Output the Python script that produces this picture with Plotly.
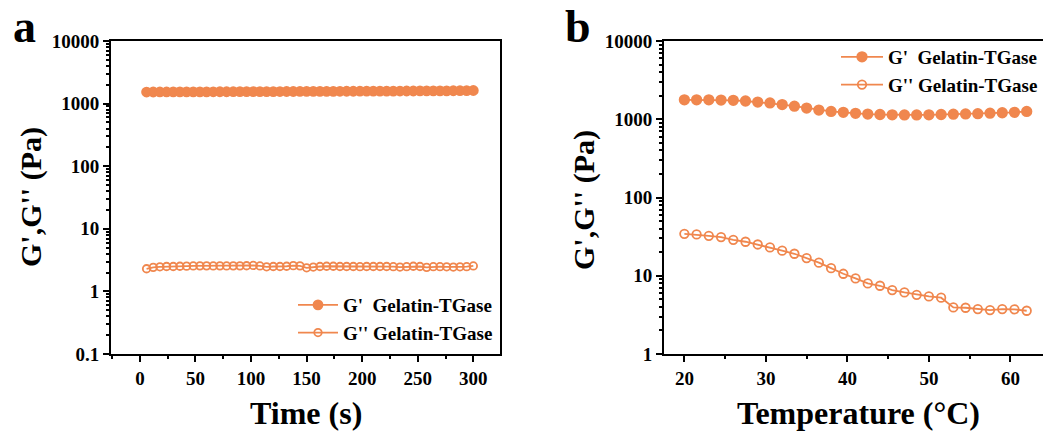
import plotly.graph_objects as go

# ---------------- data ----------------
time_s = [6, 12, 18, 24, 30, 36, 42, 48, 54, 60, 66, 72, 78, 84, 90, 96, 102, 108, 114, 120,
          126, 132, 138, 144, 150, 156, 162, 168, 174, 180, 186, 192, 198, 204, 210, 216, 222,
          228, 234, 240, 246, 252, 258, 264, 270, 276, 282, 288, 294, 300]
g1_time = [1530, 1532, 1534, 1535, 1536, 1538, 1539, 1540, 1542, 1543, 1544, 1546, 1547,
           1548, 1550, 1551, 1553, 1554, 1556, 1557, 1559, 1560, 1562, 1563, 1565, 1566,
           1568, 1569, 1571, 1572, 1574, 1576, 1577, 1579, 1580, 1582, 1584, 1586, 1587,
           1589, 1591, 1593, 1595, 1597, 1599, 1601, 1603, 1606, 1610, 1620]
g2_time = [2.30, 2.42, 2.47, 2.50, 2.50, 2.52, 2.53, 2.55, 2.56, 2.56, 2.55, 2.56, 2.55,
           2.56, 2.56, 2.57, 2.60, 2.55, 2.47, 2.50, 2.50, 2.52, 2.58, 2.56, 2.38, 2.45,
           2.50, 2.52, 2.52, 2.50, 2.50, 2.50, 2.48, 2.50, 2.50, 2.50, 2.50, 2.48, 2.45,
           2.48, 2.52, 2.50, 2.42, 2.48, 2.48, 2.47, 2.45, 2.47, 2.48, 2.55]

temp_c = [20, 21.5, 23, 24.5, 26, 27.5, 29, 30.5, 32, 33.5, 35, 36.5, 38, 39.5, 41, 42.5,
          44, 45.5, 47, 48.5, 50, 51.5, 53, 54.5, 56, 57.5, 59, 60.5, 62]
g1_temp = [1770, 1770, 1770, 1760, 1745, 1710, 1660, 1615, 1540, 1470, 1390, 1310, 1260,
           1225, 1190, 1165, 1150, 1140, 1135, 1135, 1140, 1150, 1160, 1170, 1180, 1195,
           1210, 1225, 1260]
g2_temp = [34.3, 33.7, 32.4, 31.2, 28.8, 27.2, 25.1, 23.0, 20.9, 19.1, 16.8, 14.7, 12.5,
           10.6, 9.25, 7.98, 7.45, 6.56, 6.12, 5.71, 5.45, 5.24, 3.94, 3.90, 3.75, 3.64,
           3.75, 3.72, 3.57]

series_names = ["G'  Gelatin-TGase", "G'' Gelatin-TGase"]
a_yticks = [0.1, 1, 10, 100, 1000, 10000]
a_yticktext = ["0.1", "1", "10", "100", "1000", "10000"]
b_yticks = [1, 10, 100, 1000, 10000]
b_yticktext = ["1", "10", "100", "1000", "10000"]
a_xticks = [0, 50, 100, 150, 200, 250, 300]
b_xticks = [20, 30, 40, 50, 60]

# ---------------- style ----------------
ORANGE = "#F0874E"
FONT = "Liberation Serif"
W, H = 1043, 432

fig = go.Figure()

def add(x, y, name, filled, xa, ya, leg, msize):
    fig.add_trace(go.Scatter(
        x=x, y=y, name=name, mode="lines+markers",
        xaxis=xa, yaxis=ya, legend=leg,
        line=dict(color=ORANGE, width=1.8),
        marker=dict(size=msize, symbol="circle" if filled else "circle-open",
                    color=ORANGE, line=dict(color=ORANGE, width=1.8)),
    ))

add(time_s, g1_time, series_names[0], True, "x", "y", "legend", 9)
add(time_s, g2_time, series_names[1], False, "x", "y", "legend", 7.5)
add(temp_c, g1_temp, series_names[0], True, "x2", "y2", "legend2", 9.5)
add(temp_c, g2_temp, series_names[1], False, "x2", "y2", "legend2", 8.5)

tickfont = dict(family=FONT, size=19, color="black", weight="bold")
ax_common = dict(showline=True, linecolor="black", linewidth=2, ticks="outside",
                 ticklen=6, tickwidth=2, tickcolor="black", showgrid=False,
                 zeroline=False, tickfont=tickfont, automargin=False)

ya = dict(domain=[1 - 354 / H, 1 - 41 / H])
legend_font = dict(family=FONT, size=19, color="black", weight="bold")
fig.update_layout(
    width=W, height=H, margin=dict(l=0, r=0, t=0, b=0, pad=0, autoexpand=False),
    paper_bgcolor="white", plot_bgcolor="white",
    xaxis=dict(domain=[111 / W, 500 / W], range=[-26, 324], tickvals=a_xticks,
               mirror=True, anchor="y",
               minor=dict(dtick=25, tick0=0, ticks="outside", ticklen=3, tickwidth=2,
                          tickcolor="black", showgrid=False),
               **ax_common),
    yaxis=dict(type="log", range=[-1, 4], tickvals=a_yticks, ticktext=a_yticktext,
               mirror=True, anchor="x",
               minor=dict(dtick="D1", ticks="outside", ticklen=3, tickwidth=1.5,
                          tickcolor="black", showgrid=False),
               **ya, **ax_common),
    xaxis2=dict(domain=[664 / W, 1.0], range=[17.5, 64.0], tickvals=b_xticks,
                mirror=True, anchor="y2",
                minor=dict(dtick=5, tick0=0, ticks="outside", ticklen=3, tickwidth=2,
                           tickcolor="black", showgrid=False),
                **ax_common),
    yaxis2=dict(type="log", range=[0, 4], tickvals=b_yticks, ticktext=b_yticktext,
                anchor="x2",
                minor=dict(dtick="D1", ticks="outside", ticklen=3, tickwidth=1.5,
                           tickcolor="black", showgrid=False),
                **ya, **ax_common),
    legend=dict(x=498 / W, y=1 - 352 / H, xanchor="right", yanchor="bottom",
                bgcolor="rgba(0,0,0,0)", itemwidth=40, tracegroupgap=0,
                font=legend_font),
    legend2=dict(x=1.0, y=1 - 38 / H, xanchor="right", yanchor="top",
                 bgcolor="rgba(0,0,0,0)", itemwidth=42, tracegroupgap=0,
                 font=legend_font),
    showlegend=True,
)

title_font = dict(family=FONT, size=32, color="black", weight="bold")
ytitle_font = dict(family=FONT, size=30, color="black", weight="bold")
letter_font = dict(family=FONT, size=46, color="black", weight="bold")
ann = [
    dict(text="Time (s)", x=306 / W, y=1 - 413 / H, yanchor="middle", font=title_font),
    dict(text="Temperature (°C)", x=858 / W, y=1 - 413 / H, yanchor="middle", font=title_font),
    dict(text="G',G'' (Pa)", x=31 / W, y=1 - 197 / H, yanchor="middle", textangle=-90, font=ytitle_font),
    dict(text="G',G'' (Pa)", x=584 / W, y=1 - 200 / H, yanchor="middle", textangle=-90, font=ytitle_font),
    dict(text="a", x=24 / W, y=1.0, yanchor="top", font=letter_font, borderpad=0),
    dict(text="b", x=578 / W, y=1.0, yanchor="top", font=letter_font, borderpad=0),
]
for a in ann:
    fig.add_annotation(xref="paper", yref="paper", showarrow=False,
                       xanchor="center", **a)

fig.write_html("out.html")
